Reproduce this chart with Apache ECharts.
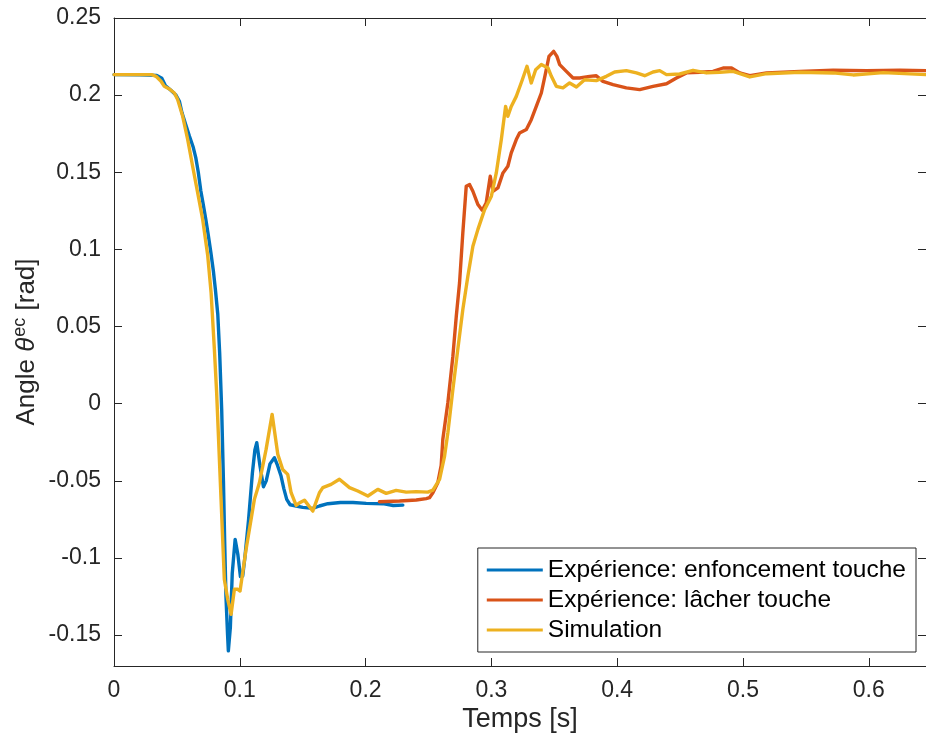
<!DOCTYPE html>
<html>
<head>
<meta charset="utf-8">
<script src="https://cdn.jsdelivr.net/npm/echarts@6/dist/echarts.min.js"></script>
<style>
  html, body { margin: 0; padding: 0; background: #fff; }
  #chart { width: 926px; height: 742px; }
</style>
</head>
<body>
<div id="chart"></div>
<script>
// Measured key-press response: time [s]
var pressT = [0, 0.02, 0.034, 0.038, 0.041, 0.045, 0.049, 0.052, 0.054, 0.057, 0.060, 0.063, 0.065, 0.067, 0.069, 0.071, 0.073, 0.075, 0.077, 0.079, 0.0806, 0.0825, 0.0840, 0.0856, 0.087, 0.088, 0.089, 0.0903, 0.0909, 0.0925, 0.094, 0.0963, 0.0985, 0.1005, 0.1023, 0.104, 0.107, 0.110, 0.112, 0.1135, 0.116, 0.1188, 0.121, 0.124, 0.1275, 0.130, 0.1328, 0.135, 0.1373, 0.140, 0.1448, 0.150, 0.158, 0.1633, 0.170, 0.180, 0.190, 0.2005, 0.2137, 0.222, 0.2296];
// angle [rad]
var pressV = [0.2133, 0.2132, 0.2128, 0.2110, 0.2060, 0.2033, 0.2003, 0.1960, 0.1887, 0.1810, 0.1733, 0.1662, 0.1595, 0.1500, 0.1380, 0.1290, 0.1194, 0.1090, 0.0980, 0.0860, 0.0740, 0.0580, 0.0330, -0.0037, -0.050, -0.090, -0.125, -0.150, -0.1602, -0.145, -0.110, -0.0879, -0.098, -0.112, -0.1117, -0.100, -0.075, -0.045, -0.030, -0.0253, -0.040, -0.0538, -0.050, -0.039, -0.035, -0.040, -0.0469, -0.055, -0.062, -0.0655, -0.0663, -0.0672, -0.0678, -0.0663, -0.0648, -0.0640, -0.0640, -0.0646, -0.0648, -0.0660, -0.0657];

// Measured key-release response
var releaseT = [0.211, 0.227, 0.2403, 0.2482, 0.2508, 0.2535, 0.2574, 0.2601, 0.2614, 0.2654, 0.2694, 0.2721, 0.2747, 0.2773, 0.2800, 0.2827, 0.2853, 0.2893, 0.2927, 0.2959, 0.2991, 0.3012, 0.3052, 0.3092, 0.3131, 0.3158, 0.3198, 0.3224, 0.3278, 0.3317, 0.3357, 0.3397, 0.3431, 0.3458, 0.3495, 0.3521, 0.3543, 0.3596, 0.3649, 0.3702, 0.3781, 0.3834, 0.3887, 0.3967, 0.4073, 0.4179, 0.4285, 0.4392, 0.4471, 0.4551, 0.4657, 0.4762, 0.4842, 0.4909, 0.4975, 0.5054, 0.5187, 0.5452, 0.5717, 0.5982, 0.6247, 0.6455];
var releaseV = [-0.0635, -0.0631, -0.0624, -0.0615, -0.0609, -0.0577, -0.0512, -0.040, -0.0231, 0.0006, 0.0308, 0.0567, 0.0784, 0.1108, 0.1409, 0.1420, 0.1377, 0.1291, 0.1254, 0.1302, 0.1474, 0.1377, 0.1399, 0.1496, 0.1539, 0.1626, 0.1712, 0.1755, 0.1777, 0.1841, 0.1927, 0.2014, 0.2144, 0.2251, 0.2284, 0.2251, 0.2198, 0.2154, 0.2111, 0.2111, 0.2122, 0.2126, 0.2089, 0.2068, 0.2047, 0.2036, 0.2057, 0.2074, 0.2111, 0.2144, 0.2148, 0.2154, 0.2176, 0.2176, 0.2144, 0.2126, 0.2144, 0.2154, 0.2161, 0.2159, 0.2161, 0.2159];

// Simulated response
var simT = [0, 0.030, 0.0334, 0.0374, 0.040, 0.044, 0.048, 0.0506, 0.0546, 0.0586, 0.0625, 0.0665, 0.0705, 0.0745, 0.0772, 0.0798, 0.0816, 0.0851, 0.0877, 0.0904, 0.0931, 0.0957, 0.0984, 0.1002, 0.1050, 0.1116, 0.1156, 0.1209, 0.1257, 0.1302, 0.1341, 0.1381, 0.1408, 0.1448, 0.1480, 0.1514, 0.1580, 0.1633, 0.1660, 0.1726, 0.1792, 0.1872, 0.1938, 0.2018, 0.2097, 0.2164, 0.2243, 0.2323, 0.2403, 0.2495, 0.2535, 0.2588, 0.2628, 0.2654, 0.2694, 0.2733, 0.2773, 0.2813, 0.2853, 0.2893, 0.2946, 0.3000, 0.3039, 0.3079, 0.3113, 0.3131, 0.3158, 0.3198, 0.3246, 0.3283, 0.3317, 0.3352, 0.3397, 0.3450, 0.3477, 0.3516, 0.3569, 0.3622, 0.3676, 0.3741, 0.3834, 0.3914, 0.3980, 0.4073, 0.4153, 0.4219, 0.4285, 0.4338, 0.4392, 0.4497, 0.4603, 0.4710, 0.4815, 0.4921, 0.5054, 0.5187, 0.5452, 0.5717, 0.5876, 0.6115, 0.6455];
var simV = [0.2133, 0.2133, 0.2122, 0.2090, 0.2057, 0.2040, 0.2014, 0.1971, 0.1863, 0.1712, 0.1539, 0.1367, 0.1194, 0.0960, 0.0719, 0.0352, 0.0071, -0.0620, -0.1138, -0.1268, -0.1365, -0.1203, -0.1203, -0.1214, -0.0944, -0.0620, -0.0512, -0.0296, -0.0069, -0.0328, -0.0426, -0.0458, -0.0577, -0.0659, -0.0640, -0.0625, -0.0696, -0.0577, -0.0544, -0.0523, -0.0490, -0.0544, -0.0566, -0.0598, -0.0555, -0.0581, -0.0562, -0.0573, -0.0570, -0.0573, -0.0560, -0.0490, -0.0339, -0.0188, 0.0093, 0.0352, 0.0611, 0.0826, 0.1021, 0.1130, 0.1258, 0.1345, 0.1496, 0.1712, 0.1927, 0.1863, 0.1927, 0.1992, 0.2100, 0.2187, 0.2079, 0.2165, 0.2198, 0.2176, 0.2122, 0.2057, 0.2047, 0.2079, 0.2053, 0.2100, 0.2094, 0.2122, 0.2150, 0.2159, 0.2144, 0.2126, 0.2150, 0.2159, 0.2133, 0.2137, 0.2161, 0.2144, 0.2148, 0.2154, 0.2118, 0.2139, 0.2148, 0.2144, 0.2131, 0.2146, 0.2133];

var xTicks = [0, 0.1, 0.2, 0.3, 0.4, 0.5, 0.6];
var yTicks = [-0.15, -0.1, -0.05, 0, 0.05, 0.1, 0.15, 0.2, 0.25];
var seriesNames = ['Expérience: enfoncement touche', 'Expérience: lâcher touche', 'Simulation'];
var seriesColors = ['#0072BD', '#D95319', '#EDB120'];

function zip(t, v) {
  return t.map(function (x, i) { return [x, v[i]]; });
}

var ink = '#262626';
var font = 'Liberation Sans, Arial, Helvetica, sans-serif';

function fmt(v) {
  if (v === 0) return '0';
  return String(Math.round(v * 100) / 100);
}

var chart = echarts.init(document.getElementById('chart'), null, { renderer: 'canvas' });

var frameLine = { show: true, onZero: false, lineStyle: { color: ink, width: 1 } };

chart.setOption({
  animation: false,
  backgroundColor: '#ffffff',
  grid: { left: 114, top: 18, right: 0, bottom: 76, containLabel: false, outerBoundsMode: 'none' },
  legend: {
    orient: 'vertical',
    right: 10,
    top: 548,
    padding: [8, 10, 8, 9],
    backgroundColor: '#ffffff',
    borderColor: ink,
    borderWidth: 1,
    itemWidth: 56,
    itemHeight: 3,
    itemGap: 2,
    itemTextGap: 7,
    icon: 'rect',
    textStyle: { color: '#000', fontFamily: font, fontSize: 24.5, lineHeight: 28 },
    data: seriesNames
  },
  xAxis: [{
    type: 'value',
    min: 0,
    max: 0.6455,
    position: 'bottom',
    name: 'Temps [s]',
    nameLocation: 'middle',
    nameGap: 40,
    nameMoveOverlap: false,
    nameTextStyle: { color: ink, fontFamily: font, fontSize: 27 },
    axisLine: frameLine,
    axisTick: { show: true, inside: true, length: 8, lineStyle: { color: ink }, customValues: xTicks },
    axisLabel: { color: ink, fontFamily: font, fontSize: 23, margin: 13, customValues: xTicks, formatter: fmt },
    splitLine: { show: false }
  }, {
    type: 'value',
    min: 0,
    max: 0.6455,
    position: 'top',
    axisLine: frameLine,
    axisTick: { show: true, inside: true, length: 8, lineStyle: { color: ink }, customValues: xTicks },
    axisLabel: { show: false },
    splitLine: { show: false }
  }],
  yAxis: [{
    type: 'value',
    min: -0.17,
    max: 0.25,
    position: 'left',
    name: '{a|Angle }{i|θ}{s|ec}{a| [rad]}',
    nameLocation: 'middle',
    nameGap: 71,
    nameMoveOverlap: false,
    nameRotate: 90,
    nameTextStyle: {
      color: ink,
      rich: {
        a: { fontFamily: font, fontSize: 26, color: ink, lineHeight: 32 },
        i: { fontFamily: font, fontSize: 26, fontStyle: 'italic', color: ink, lineHeight: 32 },
        s: { fontFamily: font, fontSize: 18, color: ink, lineHeight: 14, verticalAlign: 'top', padding: [0, 0, 0, 1] }
      }
    },
    axisLine: frameLine,
    axisTick: { show: true, inside: true, length: 8, lineStyle: { color: ink }, customValues: yTicks },
    axisLabel: { color: ink, fontFamily: font, fontSize: 23, margin: 13, customValues: yTicks, formatter: fmt },
    splitLine: { show: false }
  }, {
    type: 'value',
    min: -0.17,
    max: 0.25,
    position: 'right',
    axisLine: frameLine,
    axisTick: { show: true, inside: true, length: 8, lineStyle: { color: ink }, customValues: yTicks },
    axisLabel: { show: false },
    splitLine: { show: false }
  }],
  series: [
    { name: seriesNames[0], data: zip(pressT, pressV) },
    { name: seriesNames[1], data: zip(releaseT, releaseV) },
    { name: seriesNames[2], data: zip(simT, simV) }
  ].map(function (s, i) {
    return {
      name: s.name,
      type: 'line',
      xAxisIndex: 0,
      yAxisIndex: 0,
      data: s.data,
      showSymbol: false,
      symbol: 'none',
      clip: true,
      color: seriesColors[i],
      lineStyle: { color: seriesColors[i], width: 3.4, join: 'round', cap: 'round' },
      z: 2 + i
    };
  })
});
</script>
</body>
</html>
